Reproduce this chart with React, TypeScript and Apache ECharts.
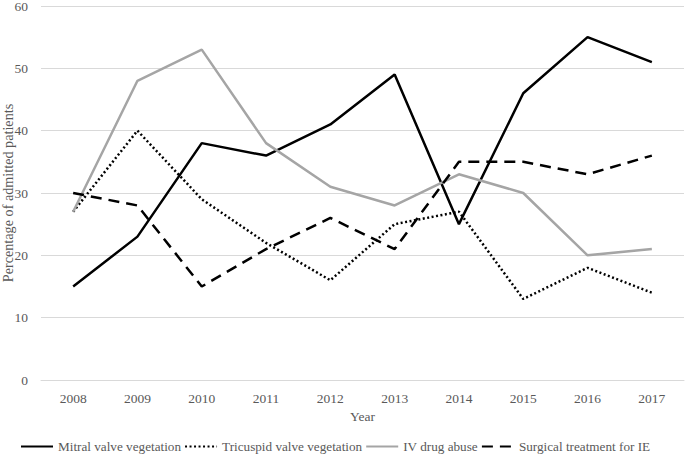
import React, { useEffect, useRef } from "react";
import * as echarts from "echarts";

const years = ["2008", "2009", "2010", "2011", "2012", "2013", "2014", "2015", "2016", "2017"];
const mitral = [15, 23, 38, 36, 41, 49, 25, 46, 55, 51];
const tricuspid = [27, 40, 29, 22, 16, 25, 27, 13, 18, 14];
const ivDrug = [27, 48, 53, 38, 31, 28, 33, 30, 20, 21];
const surgical = [30, 28, 15, 21, 26, 21, 35, 35, 33, 36];

const FONT = "Liberation Serif";
const TXT = "#595959";
const FS = 13.5;

export default function App() {
  const ref = useRef<HTMLDivElement>(null);
  useEffect(() => {
    if (!ref.current) return;
    const chart = echarts.init(ref.current, undefined, { renderer: "svg" });
    const mk = (name: string, data: number[], color: string, type: any) => ({
      name,
      type: "line",
      data,
      symbol: "none",
      lineStyle: { color, width: 2.5, type, cap: "butt" },
      itemStyle: { color },
    });
    chart.setOption({
      animation: false,
      textStyle: { fontFamily: FONT },
      grid: { left: 41, right: 1, top: 6, bottom: 76, containLabel: false, outerBoundsMode: "none" },
      legend: {
        top: 440,
        left: 20,
        padding: 0,
        itemWidth: 32,
        itemHeight: 10,
        itemGap: 3,
        itemStyle: { color: "transparent", borderColor: "transparent", borderWidth: 0, opacity: 0 },
        textStyle: { fontFamily: FONT, fontSize: 13.2, color: TXT },
        data: [
          "Mitral valve vegetation",
          "Tricuspid valve vegetation",
          "IV drug abuse",
          "Surgical treatment for IE",
        ],
      },
      xAxis: {
        type: "category",
        data: years,
        name: "Year",
        nameLocation: "middle",
        nameGap: 28,
        nameTextStyle: { fontFamily: FONT, fontSize: FS, color: TXT },
        axisLine: { show: true, lineStyle: { color: "#d9d9d9", width: 1 } },
        axisTick: { show: false },
        axisLabel: { fontFamily: FONT, fontSize: FS, color: TXT, margin: 11 },
      },
      yAxis: {
        type: "value",
        min: 0,
        max: 60,
        interval: 10,
        name: "Percentage of admitted patients",
        nameLocation: "middle",
        nameGap: 26,
        nameMoveOverlap: false,
        nameTextStyle: { fontFamily: FONT, fontSize: 14.2, color: TXT },
        axisLine: { show: false },
        axisTick: { show: false },
        axisLabel: { fontFamily: FONT, fontSize: FS, color: TXT, margin: 13 },
        splitLine: { lineStyle: { color: "#d9d9d9", width: 1 } },
      },
      series: [
        mk("Mitral valve vegetation", mitral, "#000000", "solid"),
        mk("Tricuspid valve vegetation", tricuspid, "#000000", [2, 2.5]),
        mk("IV drug abuse", ivDrug, "#a5a5a5", "solid"),
        mk("Surgical treatment for IE", surgical, "#000000", [11, 7]),
      ],
    });
    return () => chart.dispose();
  }, []);
  return <div ref={ref} style={{ width: 685, height: 456, position: "absolute", left: 0, top: 0 }} />;
}
